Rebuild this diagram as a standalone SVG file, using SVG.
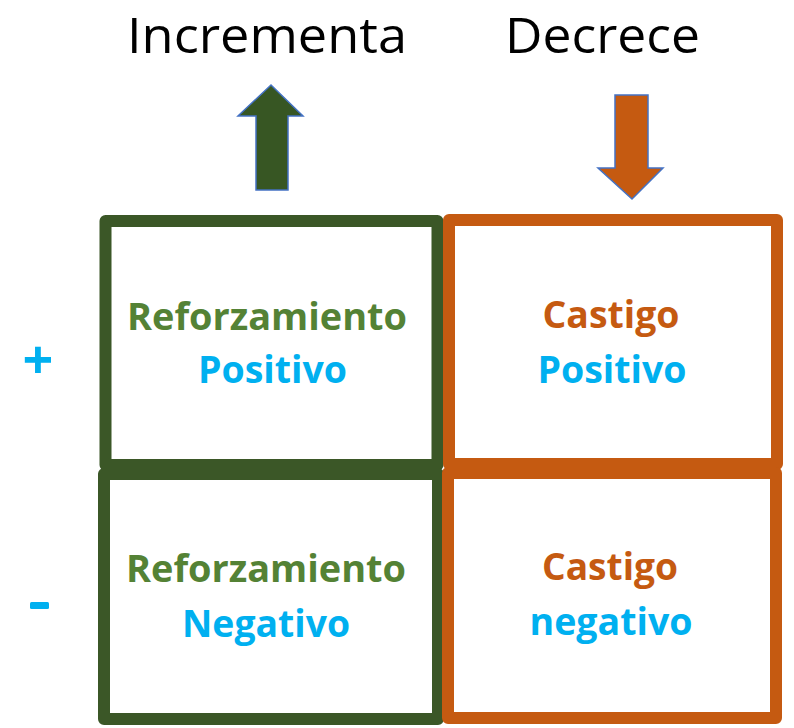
<svg xmlns="http://www.w3.org/2000/svg" width="794" height="728" viewBox="0 0 794 728">
<style>
.box{fill:#fff;stroke-width:12;stroke-linejoin:round}
.g{stroke:#3B5727}
.o{stroke:#C55A11}
.t{font-family:"Open Sans","Noto Sans",sans-serif;font-weight:bold;font-size:38px;text-anchor:middle}
.h{font-family:"Open Sans","Noto Sans",sans-serif;font-size:50px;fill:#000}
.tg{fill:#548235}.tb{fill:#00B0F0}.to{fill:#C55A11}
.arr{stroke:#4472C4;stroke-width:1.5;stroke-linejoin:miter}
</style>
<rect width="794" height="728" fill="#fff"/>
<text class="h" x="127" y="53" textLength="280" lengthAdjust="spacingAndGlyphs">Incrementa</text>
<text class="h" x="505" y="53" textLength="195" lengthAdjust="spacingAndGlyphs">Decrece</text>
<g id="connectors">
<polygon class="arr" fill="#375623" points="271,85 303,116 288,116 288,190 256,190 256,116 238,116"/>
<polygon class="arr" fill="#C55A11" points="615,95 648,95 648,168 663,168 632,199 598,168 615,168"/>
</g>
<g id="plus"><text class="t tb" x="38" y="379" style="font-size:54px">+</text></g>
<g id="minus"><rect x="30" y="602" width="19" height="7" rx="1.5" fill="#00B0F0"/></g>
<g id="rp">
<rect class="box g" x="105.5" y="221" width="332" height="244"/>
<text class="t tg" x="267" y="330" textLength="280" lengthAdjust="spacingAndGlyphs">Reforzamiento</text>
<text class="t tb" x="272.5" y="383" textLength="149" lengthAdjust="spacingAndGlyphs">Positivo</text>
</g>
<g id="cp">
<rect class="box o" x="449" y="220" width="328" height="244"/>
<text class="t to" x="611" y="328" textLength="137" lengthAdjust="spacingAndGlyphs">Castigo</text>
<text class="t tb" x="612" y="383" textLength="149" lengthAdjust="spacingAndGlyphs">Positivo</text>
</g>
<g id="rn">
<rect class="box g" x="104" y="474" width="334" height="245"/>
<text class="t tg" x="266" y="582" textLength="280" lengthAdjust="spacingAndGlyphs">Reforzamiento</text>
<text class="t tb" x="266" y="637" textLength="168" lengthAdjust="spacingAndGlyphs">Negativo</text>
</g>
<g id="cn">
<rect class="box o" x="448" y="473" width="328" height="245"/>
<text class="t to" x="610" y="580" textLength="136" lengthAdjust="spacingAndGlyphs">Castigo</text>
<text class="t tb" x="611" y="635" textLength="163" lengthAdjust="spacingAndGlyphs">negativo</text>
</g>
</svg>
